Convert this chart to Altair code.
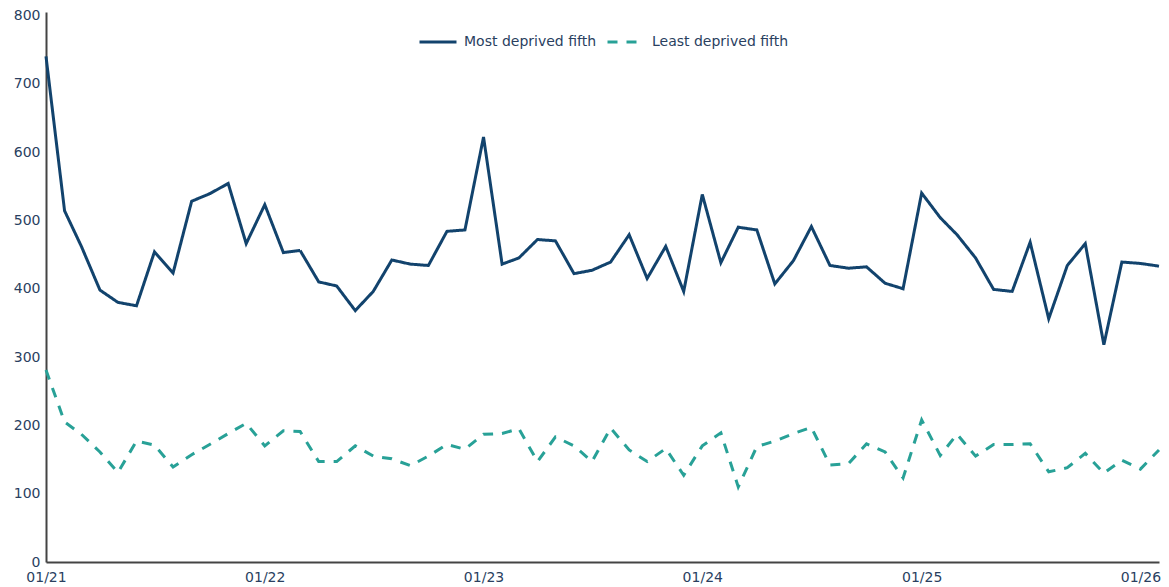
import altair as alt
import pandas as pd

months = pd.date_range("2021-01-01", periods=62, freq="MS").strftime("%Y-%m-%d").tolist()

most_deprived = [740, 514, 462, 398, 380, 375, 454, 423, 528, 539, 554, 466,
                 523, 453, 456, 410, 404, 368, 396, 442, 436, 434, 484, 486,
                 622, 436, 445, 472, 470, 422, 427, 439, 479, 415, 462, 396,
                 538, 438, 490, 486, 407, 441, 491, 434, 430, 432, 408, 400,
                 540, 504, 479, 445, 399, 396, 468, 356, 434, 466, 318, 439,
                 437, 433]
least_deprived = [281, 205, 187, 161, 131, 177, 171, 139, 157, 172, 188, 203,
                  170, 192, 191, 147, 147, 170, 155, 151, 141, 155, 172, 165,
                  187, 188, 195, 147, 183, 170, 147, 196, 164, 147, 166, 127,
                  170, 189, 110, 169, 177, 188, 197, 142, 144, 173, 161, 123,
                  208, 156, 187, 155, 172, 172, 173, 132, 138, 159, 130, 149,
                  136, 164]

series_names = ["Most deprived fifth", "Least deprived fifth"]
series_colors = ["#12436D", "#28A197"]
tick_dates = ["2021-01-01", "2022-01-01", "2023-01-01", "2024-01-01", "2025-01-01", "2026-01-01"]
y_ticks = [0, 100, 200, 300, 400, 500, 600, 700, 800]

rows = []
for m, a, b in zip(months, most_deprived, least_deprived):
    rows.append({"month": m, "series": series_names[0], "value": a})
    rows.append({"month": m, "series": series_names[1], "value": b})
df = pd.DataFrame(rows)

FONT = "DejaVu Sans"
TXT = "#2a3f5f"

legend_opts = dict(title=None, orient="none", direction="horizontal",
                   legendX=372, legendY=10, symbolType="stroke",
                   symbolStrokeWidth=3, symbolSize=1369,
                   labelFontSize=14, labelColor=TXT, labelFont=FONT,
                   labelOffset=6, columnPadding=4)

chart = alt.Chart(df).mark_line(strokeWidth=3).encode(
    x=alt.X("month:T",
            scale=alt.Scale(domain=[months[0], months[-1]], nice=False),
            axis=alt.Axis(title=None, format="%m/%y",
                          values=[pd.Timestamp(d).isoformat() for d in tick_dates],
                          ticks=False, grid=False, domainColor="#444",
                          domainWidth=2, labelPadding=8, labelFontSize=14,
                          labelColor=TXT, labelFont=FONT, labelOverlap=False,
                          labelFlush=False)),
    y=alt.Y("value:Q",
            scale=alt.Scale(domain=[0, 805], nice=False),
            axis=alt.Axis(title=None, values=y_ticks, ticks=False, grid=False,
                          domainColor="#444", domainWidth=2, labelPadding=6,
                          labelFontSize=14, labelColor=TXT, labelFont=FONT,
                          labelFlush=False)),
    color=alt.Color("series:N",
                    scale=alt.Scale(domain=series_names, range=series_colors),
                    legend=alt.Legend(**legend_opts)),
    strokeDash=alt.StrokeDash("series:N",
                              scale=alt.Scale(domain=series_names, range=[[1, 0], [10, 9]]),
                              legend=alt.Legend(**legend_opts)),
).properties(
    width=1113, height=550,
    autosize=alt.AutoSizeParams(type="none"),
    padding={"left": 38, "top": 4, "right": 2, "bottom": 25},
).configure_view(stroke=None)

chart.save("out.html", embed_options={"renderer": "svg", "actions": False})
